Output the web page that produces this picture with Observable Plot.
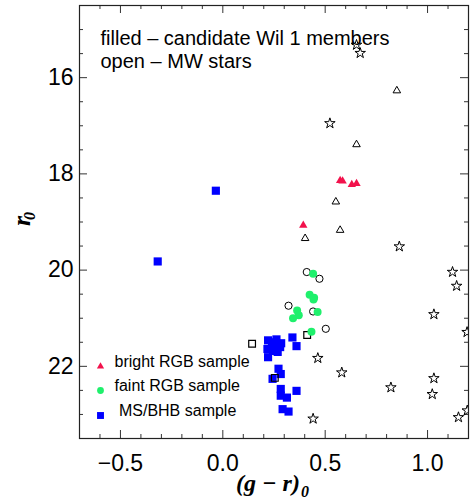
<!DOCTYPE html>
<html><head><meta charset="utf-8">
<script src="https://cdn.jsdelivr.net/npm/d3@7"></script>
<script src="https://cdn.jsdelivr.net/npm/@observablehq/plot@0.6"></script>
<style>body{margin:0;background:#fff}</style>
</head><body><div id="chart"></div>
<script>
// ---- data: [ (g-r)_0 , r_0 ] ----
const mwStars = [[0.653,15.32],[0.671,15.49],[0.523,16.95],[0.862,19.51],[1.122,20.04],[1.142,20.33],[1.031,20.92],[1.193,21.29],[0.464,21.83],[0.581,22.13],[0.821,22.44],[1.031,22.25],[1.023,22.58],[0.441,23.09],[1.151,23.06],[1.194,22.92]];
const mwTriangles = [[0.850,16.27],[0.653,17.39],[0.552,18.58],[0.573,19.17],[0.402,19.34]];
const mwCircles = [[0.410,20.04],[0.472,20.18],[0.321,20.74],[0.441,20.86],[0.503,21.22]];
const mwSquares = [[0.143,21.53],[0.412,21.35],[0.254,22.24]];
const brightRGB = [[0.573,18.14],[0.585,18.15],[0.630,18.22],[0.653,18.20],[0.393,19.07]];
const faintRGB = [[0.441,20.075],[0.424,20.51],[0.446,20.575],[0.443,20.61],[0.363,20.84],[0.371,20.94],[0.343,21.00],[0.463,20.87],[0.433,21.28]];
const msBHB = [[-0.034,18.35],[-0.318,19.82],[0.221,21.46],[0.262,21.44],[0.240,21.50],[0.285,21.52],[0.218,21.64],[0.251,21.60],[0.280,21.60],[0.245,21.68],[0.268,21.70],[0.221,21.81],[0.340,21.40],[0.360,21.58],[0.272,22.05],[0.283,22.16],[0.243,22.26],[0.283,22.47],[0.283,22.61],[0.313,22.65],[0.360,22.51],[0.292,22.89],[0.321,22.94]];

const xMajor = [-0.5, 0.0, 0.5, 1.0];
const xMinor = [-0.6,-0.4,-0.3,-0.2,-0.1,0.1,0.2,0.3,0.4,0.6,0.7,0.8,0.9,1.1];
const yMajor = [16, 18, 20, 22];
const yMinor = [15,15.5,16.5,17,17.5,18.5,19,19.5,20.5,21,21.5,22.5,23];

const titleLines = ["filled \u2013 candidate Wil 1 members", "open \u2013 MW stars"];
const legendLabels = ["bright RGB sample", "faint RGB sample", "\u00a0MS/BHB sample"];
const legendSymbols = ["triangle", "circle", "square"];
const xLabel = "(g \u2212 r)";
const yLabel = "r";
const subLabel = "0";

// ---- styles ----
const RED = "#f2124c", GREEN = "#1ff06c", BLUE = "#0000ff";
const legendColors = [RED, GREEN, BLUE];
const legendR = [2.7, 3.4, 3.9];
const legendDy = [-72, -48, -23];

const W = 474, H = 501, mL = 79, mR = 6, mT = 5, mB = 63;
const plotW = W - mL - mR, plotH = H - mT - mB;
const pts = a => a.map(([x, y]) => ({x, y}));
const serif = "'Liberation Serif', 'Times New Roman', serif";
const tickStroke = "#333";

const legendMarks = legendLabels.flatMap((lab, i) => [
  Plot.dot([lab], {frameAnchor: "bottom-left", dx: 21, dy: legendDy[i], symbol: legendSymbols[i], fill: legendColors[i], r: legendR[i]}),
  Plot.text([lab], {text: d => d, frameAnchor: "bottom-left", dx: 35, dy: legendDy[i], textAnchor: "start", fontSize: 16, fill: "black"})
]);

const chart = Plot.plot({
  width: W, height: H,
  marginLeft: mL, marginRight: mR, marginTop: mT, marginBottom: mB,
  x: {domain: [-0.7, 1.2], axis: null},
  y: {domain: [14.5, 23.5], reverse: true, axis: null},
  style: {fontFamily: "'Liberation Sans', Arial, sans-serif", background: "white", color: "black"},
  marks: [
    Plot.tickX(xMinor, {x: d => d, insetTop: plotH - 4, stroke: tickStroke}),
    Plot.tickX(xMinor, {x: d => d, insetBottom: plotH - 4, stroke: tickStroke}),
    Plot.tickX(xMajor, {x: d => d, insetTop: plotH - 8, stroke: tickStroke}),
    Plot.tickX(xMajor, {x: d => d, insetBottom: plotH - 8, stroke: tickStroke}),
    Plot.tickY(yMinor, {y: d => d, insetRight: plotW - 4, stroke: tickStroke}),
    Plot.tickY(yMinor, {y: d => d, insetLeft: plotW - 4, stroke: tickStroke}),
    Plot.tickY(yMajor, {y: d => d, insetRight: plotW - 8, stroke: tickStroke}),
    Plot.tickY(yMajor, {y: d => d, insetLeft: plotW - 8, stroke: tickStroke}),
    Plot.axisX({ticks: xMajor, tickSize: 0, tickPadding: 16, fontSize: 23, tickFormat: d3.format(".1f"), label: null}),
    Plot.axisY({ticks: yMajor, tickSize: 0, tickPadding: 6, fontSize: 23, label: null}),
    Plot.text([titleLines.join("\n")], {text: d => d, frameAnchor: "top-left", dx: 21, dy: 22.5, textAnchor: "start", lineAnchor: "top", fontSize: 20, lineHeight: 1.165, fill: "black"}),
    // MW (open)
    Plot.dot(pts(mwCircles), {x: "x", y: "y", symbol: "circle", r: 3.6, fill: "none", stroke: "black", strokeWidth: 1}),
    Plot.dot(pts(mwTriangles), {x: "x", y: "y", symbol: "triangle", r: 2.8, fill: "none", stroke: "black", strokeWidth: 1}),
    Plot.dot(pts(mwStars), {x: "x", y: "y", symbol: "star", r: 3.3, fill: "none", stroke: "black", strokeWidth: 1, clip: true}),
    // members (filled)
    Plot.dot(pts(msBHB), {x: "x", y: "y", symbol: "square", r: 4.6, fill: BLUE}),
    Plot.dot(pts(mwSquares), {x: "x", y: "y", symbol: "square", r: 3.8, fill: "none", stroke: "black", strokeWidth: 1.2}),
    Plot.dot(pts(brightRGB), {x: "x", y: "y", symbol: "triangle", r: 3.1, fill: RED}),
    Plot.dot(pts(faintRGB), {x: "x", y: "y", symbol: "circle", r: 4, fill: GREEN}),
    ...legendMarks,
    Plot.frame({stroke: "#222", strokeWidth: 1.2}),
    // axis titles
    Plot.text([xLabel], {text: d => d, frameAnchor: "bottom", dx: -6, dy: 52, lineAnchor: "bottom", fontFamily: serif, fontWeight: "bold", fontStyle: "italic", fontSize: 24, fill: "black"}),
    Plot.text([subLabel], {text: d => d, frameAnchor: "bottom", dx: 27, dy: 58, textAnchor: "start", lineAnchor: "bottom", fontFamily: serif, fontWeight: "bold", fontStyle: "italic", fontSize: 16, fill: "black"}),
    Plot.text([yLabel], {text: d => d, frameAnchor: "left", dx: -50, dy: 4, rotate: -90, lineAnchor: "bottom", fontFamily: serif, fontWeight: "bold", fontStyle: "italic", fontSize: 26, fill: "black"}),
    Plot.text([subLabel], {text: d => d, frameAnchor: "left", dx: -45, dy: -2, rotate: -90, textAnchor: "start", lineAnchor: "bottom", fontFamily: serif, fontWeight: "bold", fontStyle: "italic", fontSize: 16, fill: "black"})
  ]
});
document.getElementById("chart").appendChild(chart);
</script>
</body></html>
